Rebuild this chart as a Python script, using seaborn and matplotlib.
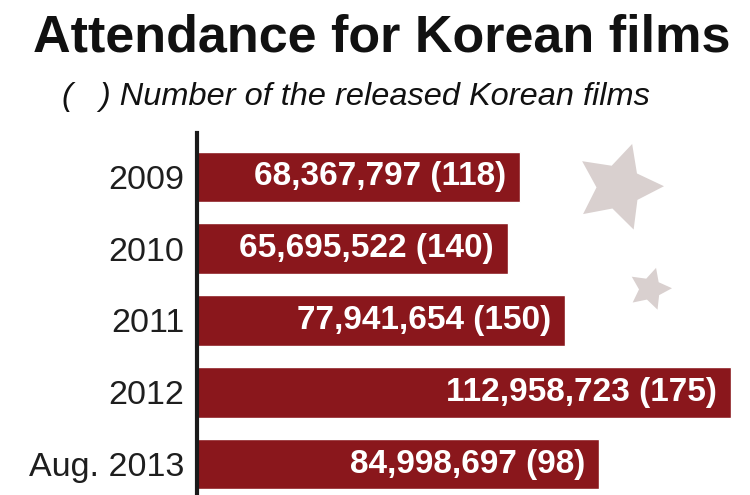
import numpy as np
import pandas as pd
import matplotlib
matplotlib.use("Agg")
import matplotlib.pyplot as plt
import seaborn as sns
from matplotlib.patches import Polygon

categories = ["2009", "2010", "2011", "2012", "Aug. 2013"]
attendance = [68367797, 65695522, 77941654, 112958723, 84998697]
films = [118, 140, 150, 175, 98]

title = "Attendance for Korean films"
subtitle = "(   ) Number of the released Korean films"

BAR = "#8a171c"
STAR = "#d9d0cf"

sns.set_theme(style="white")
plt.rcParams["font.family"] = ["Liberation Sans", "DejaVu Sans"]

df = pd.DataFrame({"year": categories, "attendance": attendance, "films": films})

W, H = 750, 495
fig = plt.figure(figsize=(7.5, 4.95), dpi=100)
fig.patch.set_facecolor("white")
ax = fig.add_axes([197 / W, 0, 553 / W, 362 / H])

sns.barplot(data=df, y="year", x="attendance", orient="h", color=BAR,
            width=0.71, saturation=1, ax=ax, zorder=2)

ax.set_xlim(0, 117.0e6)
ax.set_ylim(4.432, -0.613)
ax.set_xlabel("")
ax.set_ylabel("")
ax.set_xticks([])
for s in ["top", "right", "bottom"]:
    ax.spines[s].set_visible(False)
ax.spines["left"].set_color("#1a1a1a")
ax.spines["left"].set_linewidth(3.0)
ax.spines["left"].set_zorder(5)
ax.tick_params(axis="y", length=0, pad=9, labelsize=24.5, labelcolor="#1e1e1e")
ax.set_facecolor("white")

for i, (v, n) in enumerate(zip(attendance, films)):
    ax.annotate(f"{v:,} ({n})", xy=(v, i), xytext=(-10, 0),
                textcoords="offset points", ha="right", va="center",
                color="white", fontsize=24, fontweight="bold", zorder=6)

fig.text(382 / W, 1 - 38 / H, title, ha="center", va="center",
         fontsize=37.5, fontweight="bold", color="#111111")
fig.text(62 / W, 1 - 97 / H, subtitle, ha="left", va="center",
         fontsize=23.4, fontstyle="italic", color="#111111")

def star(cx, cy, r_out, r_in, rot_deg):
    pts = []
    for k in range(10):
        r = r_out if k % 2 == 0 else r_in
        a = np.deg2rad(90 - rot_deg - 36 * k)
        pts.append(((cx + r * np.cos(a)) / W, 1 - (cy - r * np.sin(a)) / H))
    return Polygon(pts, closed=True, transform=fig.transFigure,
                   facecolor=STAR, edgecolor="none", zorder=1)

fig.patches.append(star(619, 187, 45, 22.5, 17))
fig.patches.append(star(650, 289, 22, 11, 16))

fig.savefig("out.png", dpi=100, facecolor="white")
